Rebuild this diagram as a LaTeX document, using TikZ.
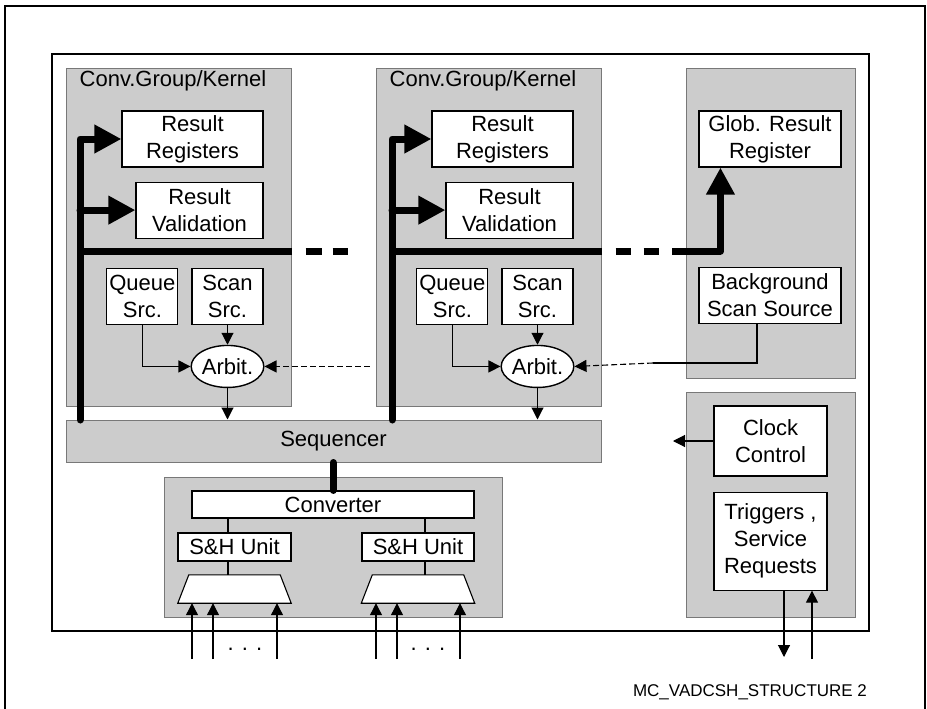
\documentclass[tikz,border=0pt]{standalone}
\usepackage{fontspec}
\setmainfont{Liberation Sans}
\usepackage{xcolor}
\usepackage{tikz}
\usetikzlibrary{arrows.meta,positioning,shapes.geometric}

\definecolor{cinzaBloco}{RGB}{204,204,204}
\definecolor{cinzaBorda}{RGB}{120,120,120}

\begin{document}
\begin{tikzpicture}[
    x=1pt, y=-1pt,
    font=\fontsize{22}{27}\selectfont,
    grupo/.style={draw=cinzaBorda, fill=cinzaBloco, line width=1pt, inner sep=0pt},
    bloco/.style={draw, fill=white, line width=1.1pt, align=center, inner sep=0pt},
    arbitro/.style={draw, ellipse, fill=white, line width=1.4pt, inner sep=0pt,
        minimum width=71pt, minimum height=42pt},
    mux/.style={inner sep=0pt, minimum width=113pt, minimum height=28pt},
    linha/.style={line width=1.1pt},
    seta/.style={-{Triangle[length=12pt,width=12pt]}, line width=1.1pt},
    tracejada/.style={seta, dash pattern=on 6pt off 3pt},
    barra/.style={line width=7pt, line cap=round, line join=round},
    barraSeta/.style={barra, -{Triangle[length=27pt,width=27pt]}},
    barraTraco/.style={line width=7pt}
]
    \useasboundingbox (0,0) rectangle (927,709);

    % moldura
    \draw[line width=2pt] (5,709) -- (5,6) -- (925,6) -- (925,709);
    \draw[linha] (52,54) rectangle (869,631);

    % grupos
    \node[grupo, minimum width=225pt, minimum height=337pt] (kerA) at (178.5,237.5) {};
    \node[grupo, minimum width=225pt, minimum height=337pt] (kerB) at (488.5,237.5) {};
    \node[grupo, minimum width=169pt, minimum height=309pt] (global) at (770.5,223.5) {};
    \node[grupo, minimum width=169pt, minimum height=225pt] (relogio) at (770.5,504.5) {};
    \node[grupo, minimum width=535pt, minimum height=42pt] (seq) at (333.5,441) {Sequencer};
    \node[grupo, minimum width=338pt, minimum height=140pt] (convG) at (333,547) {};
    \node (tituloA) at (173,81) {Conv.Group/Kernel};
    \node (tituloB) at (483,81) {Conv.Group/Kernel};

    % kernel A
    \node[bloco, minimum width=141pt, minimum height=56pt] (regA) at (192.5,139) {Result\\Registers};
    \node[bloco, minimum width=127pt, minimum height=56pt, below=14pt of regA.south east,
        anchor=north east] (valA) {Result\\Validation};
    \node[bloco, minimum width=71pt, minimum height=56pt, below=29pt of valA.south east,
        anchor=north east] (scanA) {Scan\\Src.};
    \node[bloco, minimum width=71pt, minimum height=56pt, left=13pt of scanA] (queA) {Queue\\Src.};
    \node[arbitro, below=20pt of scanA] (arbA) {Arbit.};

    % kernel B
    \node[bloco, minimum width=141pt, minimum height=56pt] (regB) at (502.5,139) {Result\\Registers};
    \node[bloco, minimum width=127pt, minimum height=56pt, below=14pt of regB.south east,
        anchor=north east] (valB) {Result\\Validation};
    \node[bloco, minimum width=71pt, minimum height=56pt, below=29pt of valB.south east,
        anchor=north east] (scanB) {Scan\\Src.};
    \node[bloco, minimum width=71pt, minimum height=56pt, left=13pt of scanB] (queB) {Queue\\Src.};
    \node[arbitro, below=20pt of scanB] (arbB) {Arbit.};

    % global e relogio
    \node[bloco, minimum width=142pt, minimum height=56pt] (glob) at (770,139) {Glob. Result\\Register};
    \node[bloco, minimum width=142pt, minimum height=56pt, below=99pt of glob] (bss) {Background\\Scan Source};
    \node[bloco, minimum width=113pt, minimum height=70pt] (clk) at (770.5,441) {Clock\\Control};
    \node[bloco, minimum width=113pt, minimum height=98pt, below=15pt of clk] (trg) {Triggers ,\\Service\\Requests};

    % conversor
    \node[bloco, minimum width=282pt, minimum height=27pt] (conv) at (333,504.5) {Converter};
    \node[bloco, minimum width=113pt, minimum height=28pt] (shA) at (234.5,547) {S\&H Unit};
    \node[bloco, minimum width=112pt, minimum height=28pt] (shB) at (418,547) {S\&H Unit};
    \node[mux] (muxA) at (234.5,589) {};
    \node[mux] (muxB) at (418,589) {};
    \draw[linha, fill=white] (muxA.south west) -- ([xshift=11pt]muxA.north west)
        -- ([xshift=-11pt]muxA.north east) -- (muxA.south east) -- cycle;
    \draw[linha, fill=white] (muxB.south west) -- ([xshift=11pt]muxB.north west)
        -- ([xshift=-11pt]muxB.north east) -- (muxB.south east) -- cycle;

    % barramentos
    \coordinate (busA) at (80,420);
    \coordinate (busB) at (392,420);
    \coordinate (nivel) at (0,251);
    \coordinate (ponte) at (672,251);
    \draw[barraSeta] (busA) |- (regA.west);
    \draw[barraSeta] (busA |- valA.west) -- (valA.west);
    \draw[barraTraco] (busA |- nivel) -- (kerA.east |- nivel);
    \draw[barraTraco, dash pattern=on 16pt off 11pt] (kerA.east |- nivel) ++(14,0) -- ++(42,0);
    \draw[barraSeta] (busB) |- (regB.west);
    \draw[barraSeta] (busB |- valB.west) -- (valB.west);
    \draw[barraTraco] (busB |- nivel) -- (kerB.east |- nivel);
    \draw[barraTraco, dash pattern=on 15pt off 13pt] (kerB.east |- nivel) ++(14,0) -- ++(43,0);
    \draw[barraSeta, line cap=butt] (ponte) -| ([xshift=22pt]glob.south west);
    \draw[barra] (conv.north |- seq.south) -- (conv.north);

    % arbitragem
    \draw[seta] (queA.south) |- (arbA.west);
    \draw[seta] (scanA.south) -- (arbA.north);
    \draw[seta] (arbA.south) -- (arbA.south |- seq.north);
    \draw[tracejada] (kerB.west |- arbA.east) ++(-6,0) -- (arbA.east);
    \draw[seta] (queB.south) |- (arbB.west);
    \draw[seta] (scanB.south) -- (arbB.north);
    \draw[seta] (arbB.south) -- (arbB.south |- seq.north);
    \coordinate (juncao) at (653,363);
    \draw[linha] ([xshift=-13pt]bss.south) |- (juncao);
    \draw[tracejada] (juncao) -- (arbB.east);

    % relogio e gatilhos
    \coordinate (saidaClk) at (673,441);
    \coordinate (trgSai) at (784,657);
    \coordinate (trgEnt) at (812,659);
    \draw[seta] (clk.west) -- (saidaClk);
    \draw[seta] (trg.south -| trgSai) -- (trgSai);
    \draw[seta] (trgEnt) -- (trgEnt |- trg.south);

    % conversor e entradas
    \coordinate (colA) at (228,0);
    \coordinate (colB) at (425,0);
    \draw[linha] (conv.south -| colA) -- (shA.north -| colA);
    \draw[linha] (shA.south -| colA) -- (muxA.north -| colA);
    \draw[linha] (conv.south -| colB) -- (shB.north -| colB);
    \draw[linha] (shB.south -| colB) -- (muxB.north -| colB);
    \coordinate (entA1) at (192,659);
    \coordinate (entA2) at (213,659);
    \coordinate (entA3) at (277,659);
    \coordinate (entB1) at (376,659);
    \coordinate (entB2) at (397,659);
    \coordinate (entB3) at (460,659);
    \draw[seta] (entA1) -- (entA1 |- muxA.south);
    \draw[seta] (entA2) -- (entA2 |- muxA.south);
    \draw[seta] (entA3) -- (entA3 |- muxA.south);
    \draw[seta] (entB1) -- (entB1 |- muxB.south);
    \draw[seta] (entB2) -- (entB2 |- muxB.south);
    \draw[seta] (entB3) -- (entB3 |- muxB.south);
    \node (pontosA) at (245,649) {. . .};
    \node (pontosB) at (428,649) {. . .};

    \node[font=\fontsize{17}{20}\selectfont] (rotulo) at (750,692) {MC\_VADCSH\_STRUCTURE 2};
\end{tikzpicture}
\end{document}
